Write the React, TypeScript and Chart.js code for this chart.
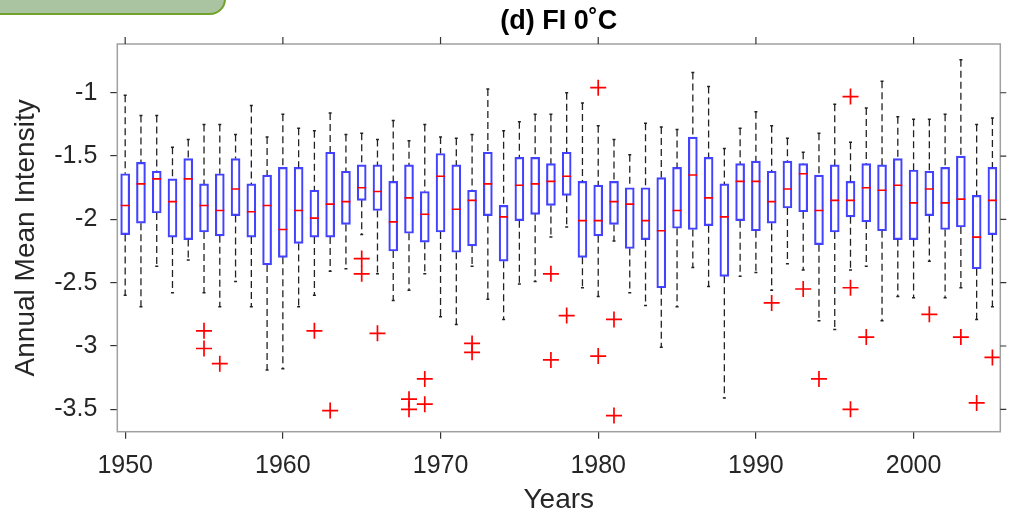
import React, { useEffect, useRef } from "react";
import { Chart, registerables } from "chart.js";

Chart.register(...registerables);

// ---- Data ----
const years = [
  1950, 1951, 1952, 1953, 1954, 1955, 1956, 1957, 1958, 1959,
  1960, 1961, 1962, 1963, 1964, 1965, 1966, 1967, 1968, 1969,
  1970, 1971, 1972, 1973, 1974, 1975, 1976, 1977, 1978, 1979,
  1980, 1981, 1982, 1983, 1984, 1985, 1986, 1987, 1988, 1989,
  1990, 1991, 1992, 1993, 1994, 1995, 1996, 1997, 1998, 1999,
  2000, 2001, 2002, 2003, 2004, 2005,
];

const whiskerTop = [
  -1.02, -1.18, -1.18, -1.43, -1.37, -1.25, -1.25, -1.33, -1.10, -1.35,
  -1.17, -1.28, -1.30, -1.16, -1.33, -1.32, -1.37, -1.22, -1.38, -1.25,
  -1.35, -1.36, -1.33, -0.97, -1.30, -1.23, -1.17, -1.17, -1.00, -1.08,
  -1.26, -1.37, -1.49, -1.24, -1.27, -1.29, -0.84, -0.95, -1.44, -1.28,
  -1.15, -1.26, -1.36, -1.47, -1.32, -1.09, -1.39, -1.12, -0.91, -1.19,
  -1.21, -1.21, -1.17, -0.74, -1.25, -1.20,
];

const q3 = [
  -1.64, -1.55, -1.62, -1.68, -1.52, -1.72, -1.64, -1.52, -1.72, -1.65,
  -1.59, -1.59, -1.77, -1.47, -1.62, -1.57, -1.57, -1.70, -1.57, -1.78,
  -1.48, -1.57, -1.77, -1.47, -1.89, -1.51, -1.51, -1.56, -1.47, -1.70,
  -1.73, -1.70, -1.75, -1.75, -1.67, -1.59, -1.35, -1.51, -1.72, -1.56,
  -1.54, -1.62, -1.54, -1.56, -1.65, -1.57, -1.70, -1.56, -1.57, -1.52,
  -1.61, -1.62, -1.59, -1.50, -1.81, -1.59,
];

const medians = [
  -1.89, -1.72, -1.68, -1.86, -1.68, -1.89, -1.93, -1.76, -1.94, -1.89,
  -2.08, -1.93, -1.99, -1.88, -1.86, -1.75, -1.78, -2.02, -1.83, -1.96,
  -1.66, -1.92, -1.85, -1.72, -1.98, -1.73, -1.72, -1.70, -1.66, -2.01,
  -2.01, -1.86, -1.88, -2.01, -2.09, -1.93, -1.65, -1.83, -1.98, -1.70,
  -1.70, -1.86, -1.76, -1.64, -1.93, -1.85, -1.85, -1.75, -1.77, -1.73,
  -1.87, -1.76, -1.87, -1.84, -2.14, -1.85,
];

const q1 = [
  -2.12, -2.03, -1.95, -2.14, -2.16, -2.10, -2.13, -1.97, -2.14, -2.36,
  -2.30, -2.19, -2.14, -2.14, -2.04, -1.85, -1.93, -2.25, -2.11, -2.18,
  -2.10, -2.26, -2.21, -1.97, -2.33, -2.01, -1.96, -1.89, -1.81, -2.30,
  -2.13, -2.04, -2.23, -2.16, -2.54, -2.07, -2.08, -2.05, -2.45, -2.01,
  -2.09, -2.03, -1.91, -1.94, -2.20, -2.10, -1.98, -2.02, -2.09, -2.16,
  -2.16, -1.97, -2.08, -2.06, -2.39, -2.12,
];

const whiskerBottom = [
  -2.60, -2.69, -2.37, -2.58, -2.32, -2.58, -2.69, -2.49, -2.69, -3.19,
  -3.18, -2.69, -2.60, -2.41, -2.39, -2.12, -2.43, -2.64, -2.56, -2.43,
  -2.77, -2.83, -2.37, -2.63, -2.79, -2.51, -2.49, -2.14, -2.06, -2.54,
  -2.61, -2.17, -2.58, -2.68, -3.01, -2.69, -2.38, -2.53, -3.41, -2.45,
  -2.42, -2.56, -2.35, -2.40, -2.80, -2.87, -2.40, -2.37, -2.80, -2.61,
  -2.62, -2.33, -2.62, -2.54, -2.79, -2.69,
];

const outlierYears = [
  1955, 1955, 1956, 1962, 1963, 1965, 1965, 1966, 1968, 1968,
  1969, 1969, 1972, 1972, 1977, 1977, 1978, 1980, 1980, 1981,
  1981, 1991, 1993, 1994, 1996, 1996, 1996, 1997, 2001, 2003,
  2004, 2005,
];
const outlierValues = [
  -2.88, -3.02, -3.14, -2.88, -3.51, -2.31, -2.43, -2.90, -3.42, -3.50,
  -3.26, -3.46, -2.98, -3.05, -2.43, -3.11, -2.76, -0.96, -3.08, -2.79,
  -3.55, -2.66, -2.55, -3.26, -1.03, -2.54, -3.50, -2.93, -2.75, -2.93,
  -3.45, -3.09,
];

const xTickValues = [1950, 1960, 1970, 1980, 1990, 2000];
const yTickValues = [-3.5, -3, -2.5, -2, -1.5, -1];

const TITLE = "(d) FI 0\u02DAC";
const X_TITLE = "Years";
const Y_TITLE = "Annual Mean Intensity";

// ---- Styles ----
const FONT = "'Liberation Sans', Arial, Helvetica, sans-serif";
const TEXT = "#262626";
const FRAME = "rgb(160,160,160)";
const TICK = "#333333";
const BOX = "rgba(20,20,255,0.8)";
const MEDIAN = "rgb(255,0,0)";
const OUTLIER = "rgb(255,0,0)";
const WHISKER = "#222222";

const framePlugin = {
  id: "frameTicks",
  afterDraw(chart: any) {
    const { ctx, chartArea: a, scales } = chart;
    const x = scales.x;
    const y = scales.y;
    ctx.save();
    ctx.strokeStyle = FRAME;
    ctx.lineWidth = 1.5;
    ctx.strokeRect(a.left, a.top, a.right - a.left, a.bottom - a.top);
    ctx.strokeStyle = TICK;
    ctx.lineWidth = 1.2;
    ctx.beginPath();
    for (const t of x.ticks) {
      const px = x.getPixelForValue(t.value);
      ctx.moveTo(px, a.top);
      ctx.lineTo(px, a.top - 7);
    }
    for (const t of y.ticks) {
      const py = y.getPixelForValue(t.value);
      ctx.moveTo(a.right, py);
      ctx.lineTo(a.right + 6, py);
    }
    ctx.stroke();
    ctx.restore();
  },
};

export default function App() {
  const canvasRef = useRef<HTMLCanvasElement | null>(null);

  useEffect(() => {
    const canvas = canvasRef.current;
    if (!canvas) return;

    const boxData = years.map((yr, i) => ({ x: yr, y: [q1[i], q3[i]] }));
    const medianData = years.map((yr, i) => ({ x: yr, y: medians[i] }));
    const whiskerData: any[] = [];
    years.forEach((yr, i) => {
      whiskerData.push({ x: yr, y: whiskerTop[i] });
      whiskerData.push({ x: yr, y: q3[i] });
      whiskerData.push({ x: yr, y: null });
      whiskerData.push({ x: yr, y: q1[i] });
      whiskerData.push({ x: yr, y: whiskerBottom[i] });
      whiskerData.push({ x: yr, y: null });
    });
    const capData: any[] = [];
    years.forEach((yr, i) => {
      capData.push({ x: yr, y: whiskerTop[i] });
      capData.push({ x: yr, y: whiskerBottom[i] });
    });
    const outlierData = outlierYears.map((yr, i) => ({ x: yr, y: outlierValues[i] }));

    const chart = new Chart(canvas, {
      type: "bar",
      data: {
        datasets: [
          {
            type: "scatter",
            label: "Outliers",
            data: outlierData,
            pointStyle: "cross",
            pointRadius: 8,
            pointBorderWidth: 1.7,
            pointBorderColor: OUTLIER,
            borderColor: OUTLIER,
            order: 0,
          } as any,
          {
            type: "scatter",
            label: "Median",
            data: medianData,
            pointStyle: "line",
            pointRadius: 4.5,
            pointBorderWidth: 1.6,
            pointBorderColor: MEDIAN,
            borderColor: MEDIAN,
            order: 1,
          } as any,
          {
            type: "bar",
            label: "IQR",
            data: boxData,
            backgroundColor: "rgba(255,255,255,0)",
            borderColor: BOX,
            borderWidth: 1.5,
            borderSkipped: false,
            barThickness: 9,
            order: 2,
          } as any,
          {
            type: "line",
            label: "Whiskers",
            data: whiskerData,
            borderColor: WHISKER,
            borderWidth: 1.3,
            borderDash: [7, 4],
            pointRadius: 0,
            spanGaps: false,
            fill: false,
            order: 3,
          } as any,
          {
            type: "scatter",
            label: "Caps",
            data: capData,
            pointStyle: "line",
            pointRadius: 1.5,
            pointBorderWidth: 1.5,
            pointBorderColor: WHISKER,
            borderColor: WHISKER,
            order: 3,
          } as any,
        ],
      },
      options: {
        animation: false,
        responsive: false,
        maintainAspectRatio: false,
        layout: { padding: { left: 0, right: 5.7, top: 0, bottom: 0 } },
        plugins: {
          legend: { display: false },
          tooltip: { enabled: false },
          title: {
            display: true,
            fullSize: false,
            text: TITLE,
            color: "#000",
            font: { family: FONT, size: 27, weight: "bold" },
            padding: { top: 5.6, bottom: 6 },
          },
        },
        scales: {
          x: {
            type: "linear",
            min: 1949.5,
            max: 2005.5,
            offset: false,
            afterBuildTicks: (s: any) => {
              s.ticks = xTickValues.map((v) => ({ value: v }));
            },
            afterFit: (s: any) => {
              s.height = 86.3;
            },
            ticks: {
              color: TEXT,
              font: { family: FONT, size: 25 },
              padding: 12,
              maxRotation: 0,
              autoSkip: false,
              callback: (v: any) => String(v),
            },
            grid: {
              display: true,
              offset: false,
              drawOnChartArea: false,
              drawTicks: true,
              tickLength: 7,
              tickColor: TICK,
              lineWidth: 1.2,
            },
            border: { display: false },
            title: {
              display: true,
              text: X_TITLE,
              color: TEXT,
              font: { family: FONT, size: 28 },
              padding: { top: 0, bottom: 1 },
            },
          },
          y: {
            type: "linear",
            min: -3.677,
            max: -0.615,
            afterBuildTicks: (s: any) => {
              s.ticks = yTickValues.map((v) => ({ value: v }));
            },
            afterFit: (s: any) => {
              s.width = 117.3;
            },
            ticks: {
              color: TEXT,
              font: { family: FONT, size: 25 },
              padding: 13,
              autoSkip: false,
              callback: (v: any) => String(v),
            },
            grid: {
              display: true,
              drawOnChartArea: false,
              drawTicks: true,
              tickLength: 7,
              tickColor: TICK,
              lineWidth: 1.2,
            },
            border: { display: false },
            title: {
              display: true,
              text: Y_TITLE,
              color: TEXT,
              font: { family: FONT, size: 28 },
              padding: { top: 9, bottom: 0 },
            },
          },
        },
      } as any,
      plugins: [framePlugin],
    });

    return () => chart.destroy();
  }, []);

  return (
    <div style={{ position: "absolute", left: 0, top: 0, width: 1010, height: 518, background: "#fff", overflow: "hidden" }}>
      <canvas ref={canvasRef} width={1010} height={518} style={{ display: "block", width: 1010, height: 518 }} />
      <div
        style={{
          position: "absolute",
          left: -20,
          top: -25,
          width: 246,
          height: 40,
          boxSizing: "border-box",
          background: "#aac3a1",
          border: "2px solid #72a22b",
          borderRadius: 16,
        }}
      />
    </div>
  );
}
